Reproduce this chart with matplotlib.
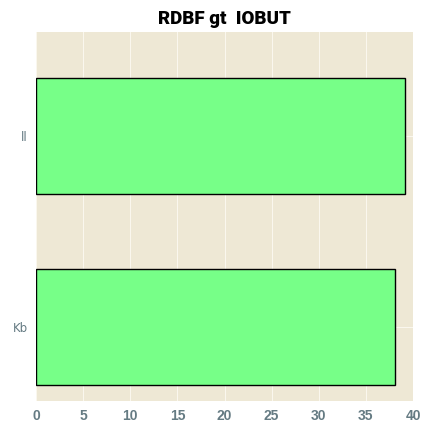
import matplotlib
matplotlib.use("Agg")
import matplotlib.pyplot as plt

# data
categories = ["Kb", "ll"]
values = [38.1, 39.2]
title = "RDBF gt  IOBUT"
xticks = [0, 5, 10, 15, 20, 25, 30, 35, 40]

fig = plt.figure(figsize=(4.32, 4.32), dpi=100)
ax = fig.add_axes([36/432, 31/432, 377/432, 369/432])
ax.set_facecolor("#eee8d5")

pos = list(range(len(categories)))
ax.barh(pos, values, height=0.61, color="#77ff88", edgecolor="black",
        linewidth=1.0, zorder=3)

ax.set_xlim(0, 40)
ax.set_ylim(-0.387, 1.545)
ax.set_xticks(xticks)
ax.set_xticklabels([str(t) for t in xticks], fontweight="bold", color="#657b83",
                   fontsize=10, family="Liberation Sans")
ax.set_yticks(pos)
ax.set_yticklabels(categories, color="#657b83", fontsize=8.5, family="DejaVu Sans")
ax.tick_params(length=0, pad=6)
ax.grid(True, color="#fbf8ef", linewidth=0.7, zorder=0)
ax.set_axisbelow(True)
for s in ax.spines.values():
    s.set_visible(False)

ax.set_title(title, fontweight="black", fontsize=13.5, pad=6, family="Roboto")

fig.savefig("out.png", dpi=100)
